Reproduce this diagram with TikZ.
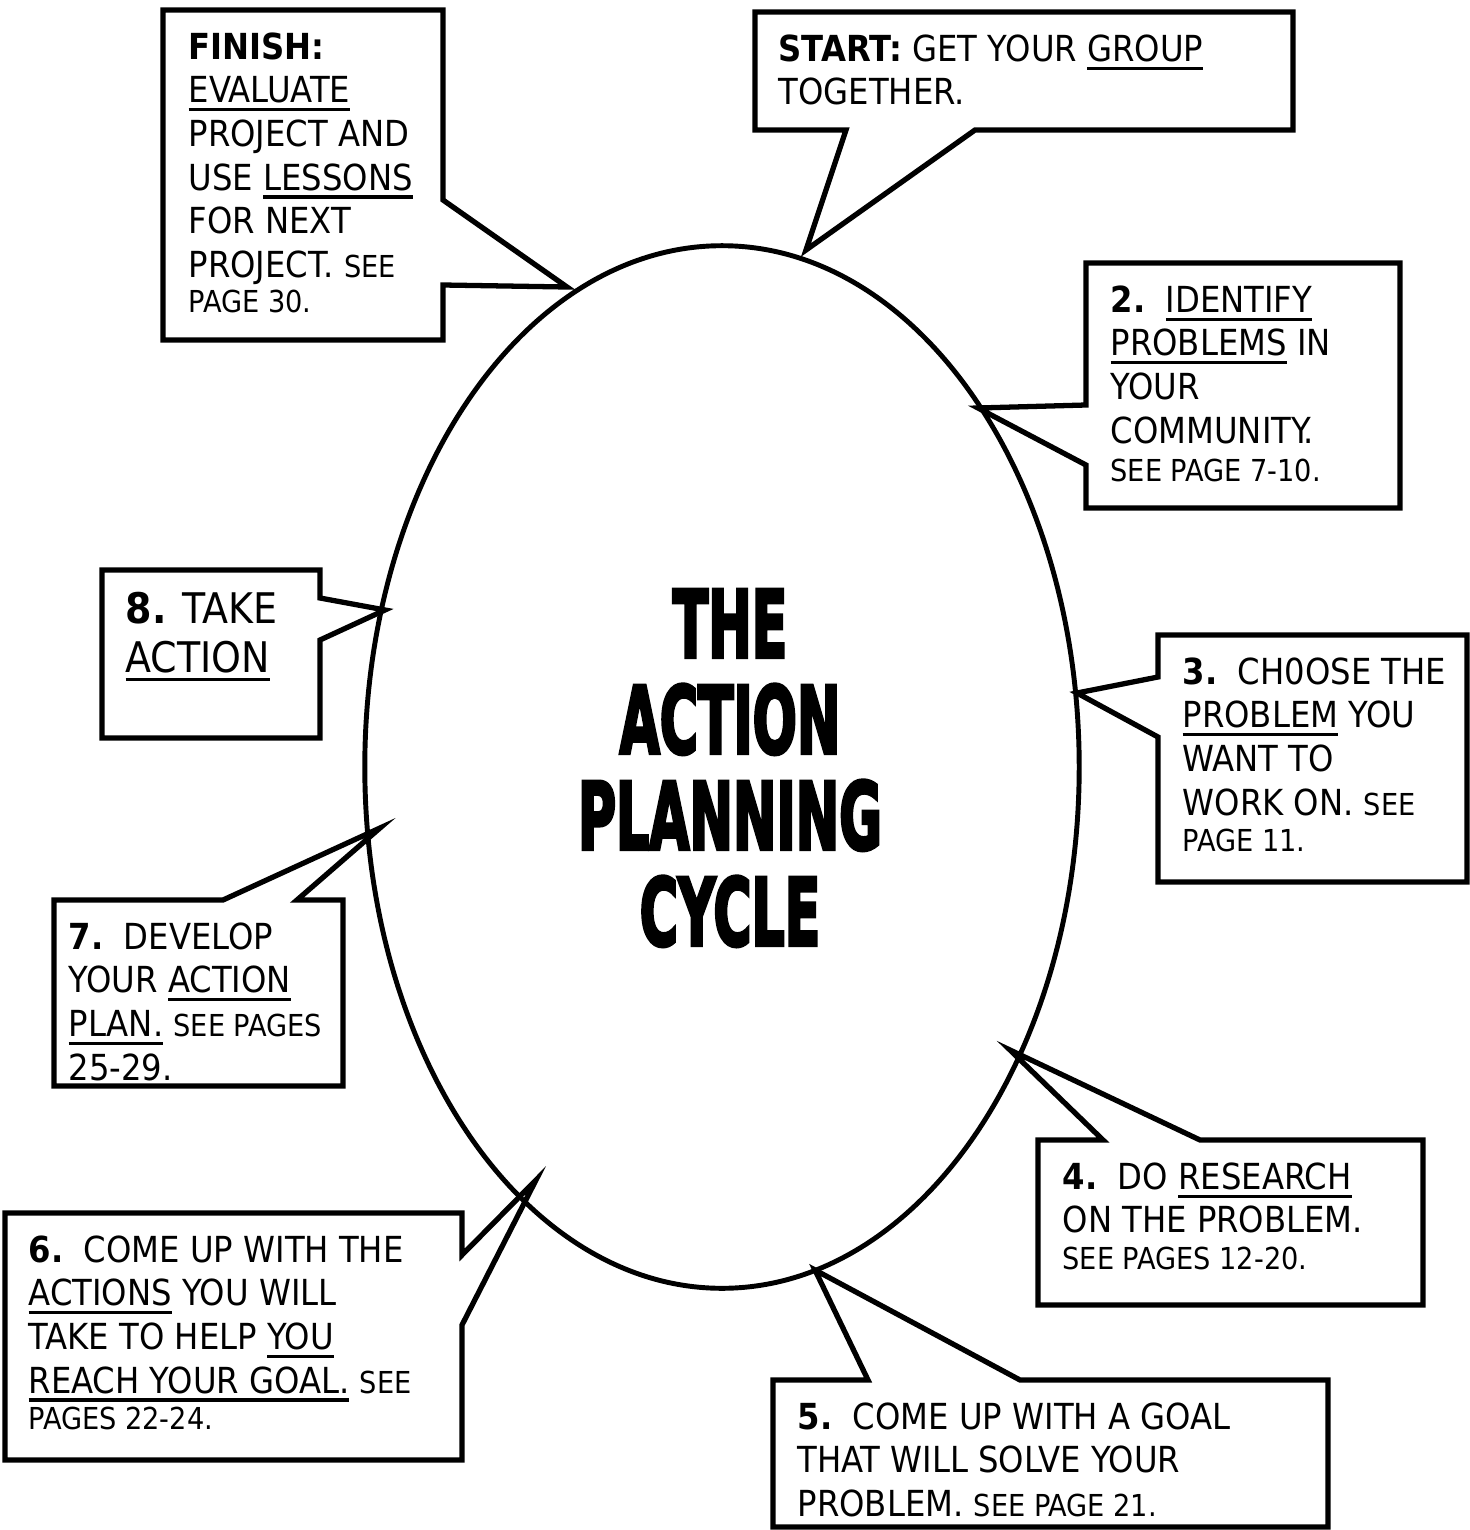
\documentclass[tikz,border=0pt]{standalone}
\usepackage{fontspec}
\setmainfont{DejaVu Sans Condensed}
\newfontfamily\titlefont{DejaVu Sans Condensed}[FakeBold=4]
\usetikzlibrary{shapes.geometric}
\newsavebox{\ulbox}
\newcommand{\ulword}[1]{\sbox{\ulbox}{#1}\rlap{\rule[-2.4pt]{\wd\ulbox}{0.9pt}}\usebox{\ulbox}}
\newcommand{\seetext}[1]{{\fontsize{8.6pt}{9pt}\selectfont #1}}
\newcommand{\titleline}[1]{\scalebox{0.62}[1]{#1}}

\begin{document}
\begin{tikzpicture}
  [x=0.01cm, y=-0.01cm,
    callout/.style={
      draw=black, line width=1.5pt,
      line join=miter
    },
    steptext/.style={
      anchor=north west, inner sep=0pt, align=left,
      font=\fontsize{10.2pt}{12.4pt}\selectfont
    },
    cycleshape/.style={
      draw=black, line width=1.4pt, ellipse, inner sep=0pt,
      minimum width=7.14cm, minimum height=10.42cm
    }
  ]
  \useasboundingbox (0,0) rectangle (1470,1530);
  \node[cycleshape] (cycle) at (722,767) {};
  \node[align=center, inner sep=0pt,
    font=\titlefont\bfseries\fontsize{26.5pt}{27.3pt}\selectfont] (title) at (730,768)
    {\titleline{THE}\\\titleline{ACTION}\\\titleline{PLANNING}\\\titleline{CYCLE}};
  % callout boxes
  \draw[callout] (163,10) -- (443,10) -- (443,200) -- (567,287) -- (443,285) -- (443,340) -- (163,340) -- cycle;
  \draw[callout] (755,12) -- (1293,12) -- (1293,130) -- (975,130) -- (806,250) -- (846,130) -- (755,130) -- cycle;
  \draw[callout] (1086,263) -- (1400,263) -- (1400,508) -- (1086,508) -- (1086,465) -- (978,408) -- (1086,405) -- cycle;
  \draw[callout] (1158,635) -- (1467,635) -- (1467,882) -- (1158,882) -- (1158,737) -- (1077,693) -- (1158,677) -- cycle;
  \draw[callout] (1038,1140) -- (1103,1140) -- (1010,1050) -- (1200,1140) -- (1423,1140) -- (1423,1305) -- (1038,1305) -- cycle;
  \draw[callout] (773,1380) -- (868,1380) -- (815,1270) -- (1020,1380) -- (1328,1380) -- (1328,1527) -- (773,1527) -- cycle;
  \draw[callout] (5,1213) -- (462,1213) -- (462,1255) -- (536,1180) -- (462,1325) -- (462,1460) -- (5,1460) -- cycle;
  \draw[callout] (54,900) -- (223,900) -- (380,828) -- (297,900) -- (343,900) -- (343,1086) -- (54,1086) -- cycle;
  \draw[callout] (102,570) -- (320,570) -- (320,598) -- (385,610) -- (320,640) -- (320,738) -- (102,738) -- cycle;
  % texts
  \node[steptext] (finish) at (188,32) {\textbf{FINISH:}\\\ulword{EVALUATE}\\PROJECT AND\\USE \ulword{LESSONS}\\FOR NEXT\\PROJECT. \seetext{SEE}\\[-2.5pt]\seetext{PAGE 30.}};
  \node[steptext] (start) at (778,34) {\textbf{START:} GET YOUR \ulword{GROUP}\\TOGETHER.};
  \node[steptext] (identify) at (1110,285) {\textbf{2.}\ \ \ulword{IDENTIFY}\\\ulword{PROBLEMS} IN\\YOUR\\COMMUNITY.\\[-1.5pt]\seetext{SEE PAGE 7-10.}};
  \node[steptext] (choose) at (1182,657) {\textbf{3.}\ \ CH0OSE THE\\\ulword{PROBLEM} YOU\\WANT TO\\WORK ON. \seetext{SEE}\\[-2pt]\seetext{PAGE 11.}};
  \node[steptext] (research) at (1062,1162) {\textbf{4.}\ \ DO \ulword{RESEARCH}\\ON THE PROBLEM.\\[-2pt]\seetext{SEE PAGES 12-20.}};
  \node[steptext] (goal) at (797,1402) {\textbf{5.}\ \ COME UP WITH A GOAL\\THAT WILL SOLVE YOUR\\PROBLEM. \seetext{SEE PAGE 21.}};
  \node[steptext] (actions) at (28,1235) {\textbf{6.}\ \ COME UP WITH THE\\\ulword{ACTIONS} YOU WILL\\TAKE TO HELP \ulword{YOU}\\\ulword{REACH YOUR GOAL.} \seetext{SEE}\\[-2pt]\seetext{PAGES 22-24.}};
  \node[steptext] (develop) at (68,922) {\textbf{7.}\ \ DEVELOP\\YOUR \ulword{ACTION}\\\ulword{PLAN.} \seetext{SEE PAGES}\\25-29.};
  \node[steptext, font=\fontsize{12pt}{14.2pt}\selectfont] (takeaction) at (125,591) {\textbf{8.} TAKE\\\ulword{ACTION}};
\end{tikzpicture}
\end{document}
